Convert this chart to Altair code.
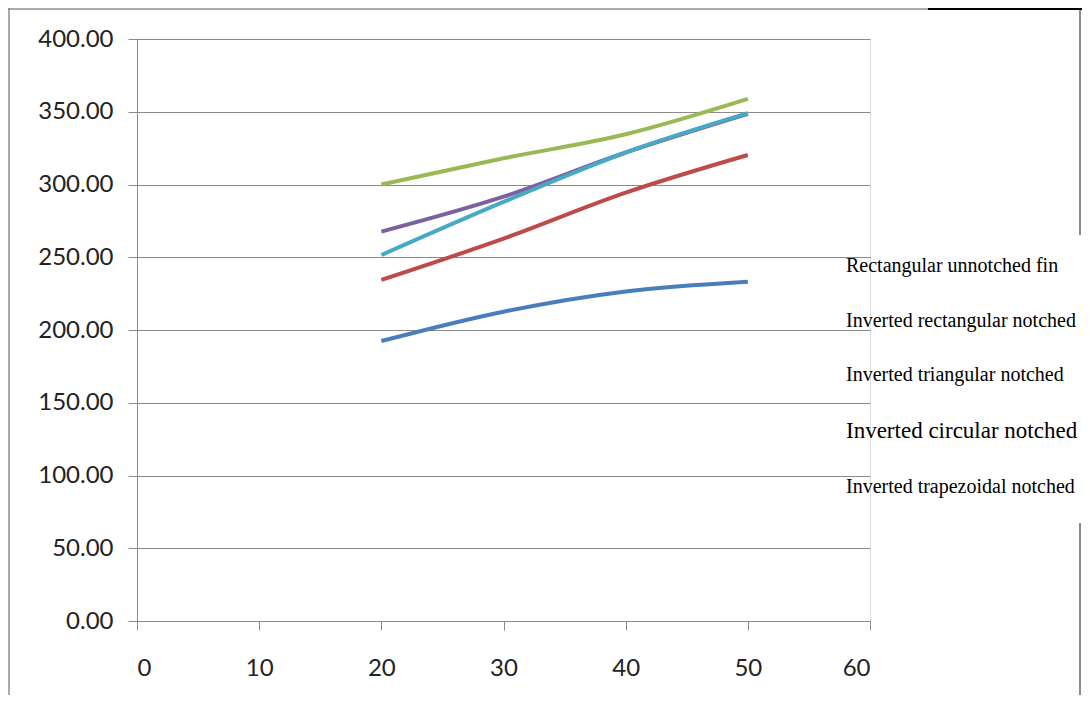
import altair as alt
import pandas as pd

# ---- data ----
x_vals = [20, 30, 40, 50]
series_names = [
    "Rectangular unnotched fin",
    "Inverted rectangular notched",
    "Inverted triangular notched",
    "Inverted circular notched",
    "Inverted trapezoidal notched",
]
rect_unnotched = [192.4, 212.6, 226.5, 233.2]
inv_rectangular = [234.4, 262.8, 294.4, 320.3]
inv_triangular = [300.0, 318.0, 334.5, 358.8]
inv_circular = [267.6, 291.6, 322.0, 348.6]
inv_trapezoidal = [251.5, 288.0, 321.9, 349.0]
colors = ["#4A7EBB", "#BE4B48", "#98B954", "#7D60A0", "#46AAC5"]

x_ticks = [0, 10, 20, 30, 40, 50, 60]
y_ticks = [0, 50, 100, 150, 200, 250, 300, 350, 400]

all_series = [rect_unnotched, inv_rectangular, inv_triangular, inv_circular, inv_trapezoidal]
rows = []
for k, (name, vals) in enumerate(zip(series_names, all_series)):
    for xv, yv in zip(x_vals, vals):
        rows.append({"series": name, "k": k, "x": xv, "y": yv})
df = pd.DataFrame(rows)

FONT = "Lato"
GRID = "#8A8A8A"

lines = alt.Chart(df).mark_line(strokeWidth=4, interpolate="monotone").encode(
    x=alt.X("x:Q", scale=alt.Scale(domain=[0, 60], nice=False),
            axis=alt.Axis(values=x_ticks, title=None, grid=False, tickSize=9,
                          labelPadding=26, labelFontSize=24, labelFont=FONT,
                          labelColor="#222222", domainColor=GRID, tickColor=GRID)),
    y=alt.Y("y:Q", scale=alt.Scale(domain=[0, 400], nice=False),
            axis=alt.Axis(values=y_ticks, format=".2f", title=None, grid=True,
                          gridColor=GRID, gridWidth=1, tickSize=9, labelPadding=15,
                          labelFontSize=24, labelFont=FONT, labelColor="#222222",
                          domainColor=GRID, tickColor=GRID)),
    color=alt.Color("series:N",
                    scale=alt.Scale(domain=series_names, range=colors),
                    sort=series_names,
                    legend=alt.Legend(orient="none", legendX=689, legendY=217,
                                      title=None, symbolSize=0, symbolStrokeWidth=0,
                                      symbolOpacity=0, labelFont="Liberation Serif",
                                      labelFontSize=alt.ExprRef("datum.label == 'Inverted circular notched' ? 23 : 20"),
                                      labelColor="black", rowPadding=34.5, labelOffset=0,
                                      padding=0, labelLimit=400)),
    detail="k:O",
)

one = alt.Data(values=[{}])
frame_gray = alt.layer(
    alt.Chart(one).mark_rule(color="#8C8C8C", strokeWidth=1.5).encode(
        x=alt.value(-128), y=alt.value(-31), y2=alt.value(700)),
    alt.Chart(one).mark_rule(color="#8C8C8C", strokeWidth=1.5).encode(
        x=alt.value(-129), x2=alt.value(791), y=alt.value(-30)),
    alt.Chart(one).mark_rule(color="#8C8C8C", strokeWidth=2).encode(
        x=alt.value(943), y=alt.value(-31), y2=alt.value(196)),
    alt.Chart(one).mark_rule(color="#8C8C8C", strokeWidth=2).encode(
        x=alt.value(943), y=alt.value(484), y2=alt.value(700)),
    alt.Chart(one).mark_rule(color="black", strokeWidth=2).encode(
        x=alt.value(791), x2=alt.value(960), y=alt.value(-30)),
)

chart = alt.layer(lines, frame_gray).properties(
    width=733, height=582,
    autosize=alt.AutoSizeParams(type="none"),
    padding={"left": 129, "top": 31, "right": 212, "bottom": 74},
).configure_view(stroke=None).configure(background="white")

chart.save("out.html", embed_options={"renderer": "svg", "actions": False})
